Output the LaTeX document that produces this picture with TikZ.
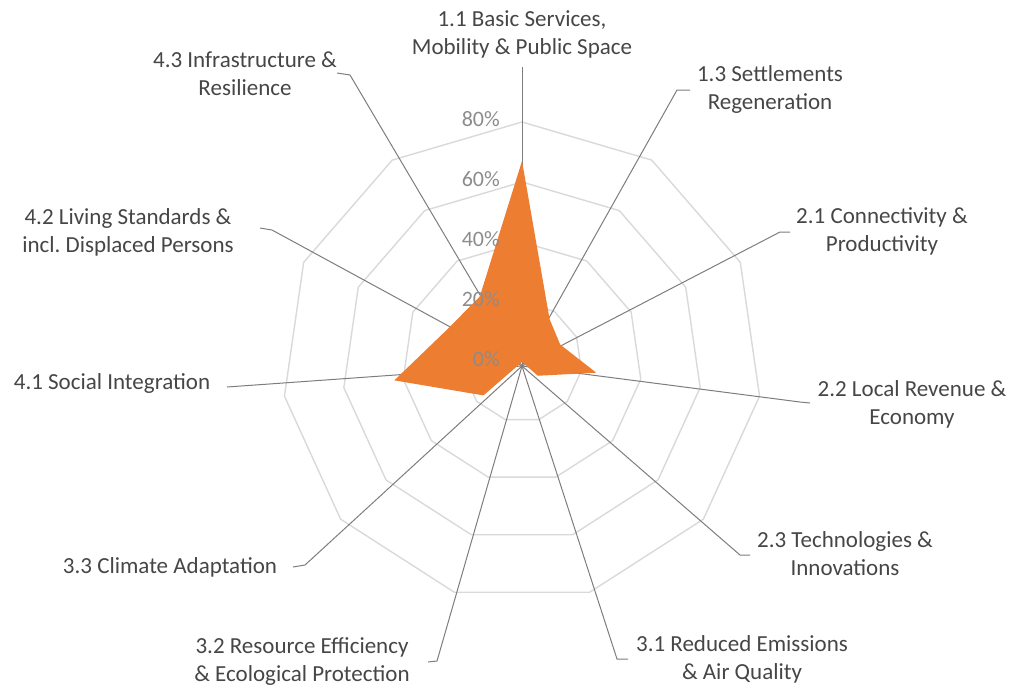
\documentclass[tikz,border=0pt]{standalone}
\usepackage{fontspec}
\setmainfont{Carlito}
\usetikzlibrary{calc}
\definecolor{cola}{RGB}{237,125,49}
\definecolor{colgrid}{RGB}{217,217,217}
\definecolor{collead}{RGB}{125,125,125}
\definecolor{coltext}{RGB}{70,70,70}
\definecolor{colpct}{RGB}{140,140,140}
\tikzset{
  ring/.style={draw=colgrid, line width=1.4pt, line join=round},
  leader/.style={draw=collead, line width=1pt},
  lbl/.style={text=coltext, font=\fontsize{23}{28}\selectfont, align=center, inner sep=0pt},
  pct/.style={text=colpct, font=\fontsize{22}{26}\selectfont, anchor=east, inner sep=0pt}
}

\begin{document}
\begin{tikzpicture}[x=1pt, y=-1pt]
    \useasboundingbox (0,0) rectangle (1016,689);
    \coordinate (ctr) at (522,362);
    \coordinate (hub) at (522,366);
    % rings at 20, 40, 60, 80 %
    \foreach \r in {60,120,180,240}
      \draw[ring] ($(ctr)+(-90:\r)$) \foreach \k in {1,...,10}{ -- ($(ctr)+(-90+\k*360/11:\r)$)} -- cycle;

    \node[lbl] (l11) at (522,34) {1.1 Basic Services,\\Mobility \& Public Space};
    \node[lbl] (l13) at (770,89) {1.3 Settlements\\Regeneration};
    \node[lbl] (l21) at (882,231) {2.1 Connectivity \&\\Productivity};
    \node[lbl] (l22) at (912,404) {2.2 Local Revenue \&\\Economy};
    \node[lbl] (l23) at (845,554) {2.3 Technologies \&\\Innovations};
    \node[lbl] (l31) at (742,659) {3.1 Reduced Emissions\\\& Air Quality};
    \node[lbl] (l32) at (302,662) {3.2 Resource Efficiency\\\& Ecological Protection};
    \node[lbl] (l33) at (170,567) {3.3 Climate Adaptation};
    \node[lbl] (l41) at (112,383) {4.1 Social Integration};
    \node[lbl] (l42) at (128,232) {4.2 Living Standards \&\\incl.\ Displaced Persons};
    \node[lbl] (l43) at (245,74) {4.3 Infrastructure \&\\Resilience};

    \coordinate (e11) at (522,67);
    \coordinate (e13) at (677,90);  \coordinate (f13) at (690,90);
    \coordinate (e21) at (780,232); \coordinate (f21) at (790,232);
    \coordinate (e22) at (800,402); \coordinate (f22) at (810,403);
    \coordinate (e23) at (740,555); \coordinate (f23) at (750,555);
    \coordinate (e31) at (617,659); \coordinate (f31) at (628,659);
    \coordinate (e32) at (437,661); \coordinate (f32) at (428,662);
    \coordinate (e33) at (305,565); \coordinate (f33) at (293,567);
    \coordinate (e41) at (227,387);
    \coordinate (e42) at (272,230); \coordinate (f42) at (260,228);
    \coordinate (e43) at (350,75);  \coordinate (f43) at (337,73);

    \draw[leader] (hub) -- (e11);
    \draw[leader] (hub) -- (e41);
    \foreach \n in {13,21,22,23,31,32,33,42,43}
      \draw[leader] (hub) -- (e\n) -- (f\n);

    % scores, 20% = 60
    \foreach \v [count=\k from 0] in {67,17,14,25,7,0,0,17,43,27,26}
      \coordinate (d\k) at ($(ctr)+(-90+\k*360/11:3*\v)$);
    \fill[cola] (d0) \foreach \k in {1,...,10}{ -- (d\k)} -- cycle;

    \foreach \p [evaluate=\p as \q using int(20*\p)] in {0,...,4}
      \node[pct] (p\p) at ($(ctr)+(-22,-60*\p-3)$) {\q\%};
\end{tikzpicture}
\end{document}
